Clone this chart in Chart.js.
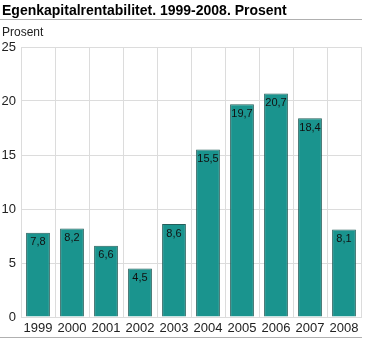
<!DOCTYPE html>
<html>
<head>
<meta charset="utf-8">
<script src="https://cdn.jsdelivr.net/npm/chart.js@4"></script>
<style>
  html, body { margin: 0; padding: 0; background: #fff; }
  #wrap { width: 370px; height: 341px; position: relative; }
</style>
</head>
<body>
<div id="wrap"><canvas id="c" width="370" height="341"></canvas></div>
<script>
const years = ['1999', '2000', '2001', '2002', '2003', '2004', '2005', '2006', '2007', '2008'];
const returnOnEquity = [7.8, 8.2, 6.6, 4.5, 8.6, 15.5, 19.7, 20.7, 18.4, 8.1];
const yTicks = [0, 5, 10, 15, 20, 25];
const titleText = 'Egenkapitalrentabilitet. 1999-2008. Prosent';
const unitText = 'Prosent';

const FONT = '"Liberation Sans", Arial, sans-serif';

// Heading, unit label and the two thin rules framing the chart
const framePlugin = {
  id: 'frame',
  beforeDraw(chart) {
    const ctx = chart.ctx;
    ctx.save();
    ctx.fillStyle = '#000';
    ctx.font = 'bold 14px ' + FONT;
    ctx.textBaseline = 'alphabetic';
    ctx.textAlign = 'left';
    ctx.fillText(titleText, 2, 15);
    ctx.fillStyle = '#b0b0b0';
    ctx.fillRect(0, 19, 362, 1);
    ctx.fillRect(0, 337, 362, 1);
    ctx.fillStyle = '#222';
    ctx.font = '12px ' + FONT;
    ctx.fillText(unitText, 2, 36);
    ctx.restore();
  }
};

// Value labels just inside the top of each bar
const valueLabels = {
  id: 'valueLabels',
  afterDatasetsDraw(chart) {
    const ctx = chart.ctx;
    const meta = chart.getDatasetMeta(0);
    ctx.save();
    ctx.fillStyle = '#111';
    ctx.font = '11px ' + FONT;
    ctx.textAlign = 'center';
    ctx.textBaseline = 'top';
    meta.data.forEach((bar, i) => {
      const v = chart.data.datasets[0].data[i];
      ctx.fillText(String(v).replace('.', ','), bar.x, bar.y + 4);
    });
    ctx.restore();
  }
};

new Chart(document.getElementById('c'), {
  type: 'bar',
  data: {
    labels: years,
    datasets: [{
      data: returnOnEquity,
      backgroundColor: '#1a948e',
      borderColor: '#245e5a',
      borderWidth: 1,
      borderSkipped: 'bottom',
      barPercentage: 0.7,
      categoryPercentage: 1.0
    }]
  },
  options: {
    responsive: false,
    animation: false,
    layout: { padding: { top: 47, right: 9, bottom: 4, left: 0 } },
    plugins: { legend: { display: false }, tooltip: { enabled: false } },
    scales: {
      x: {
        grid: { color: '#dcdcdc', lineWidth: 1, drawTicks: false, offset: true },
        border: { color: '#dcdcdc' },
        ticks: { color: '#222', font: { family: FONT, size: 13 }, padding: 4, maxRotation: 0, autoSkip: false },
        afterFit(scale) { scale.height = 20; }
      },
      y: {
        min: 0,
        max: 25,
        afterBuildTicks(scale) { scale.ticks = yTicks.map(v => ({ value: v })); },
        grid: { color: '#dcdcdc', lineWidth: 1, drawTicks: false },
        border: { color: '#dcdcdc' },
        ticks: { color: '#222', font: { family: FONT, size: 13 }, padding: 5 },
        afterFit(scale) { scale.width = 21; }
      }
    }
  },
  plugins: [framePlugin, valueLabels]
});
</script>
</body>
</html>
